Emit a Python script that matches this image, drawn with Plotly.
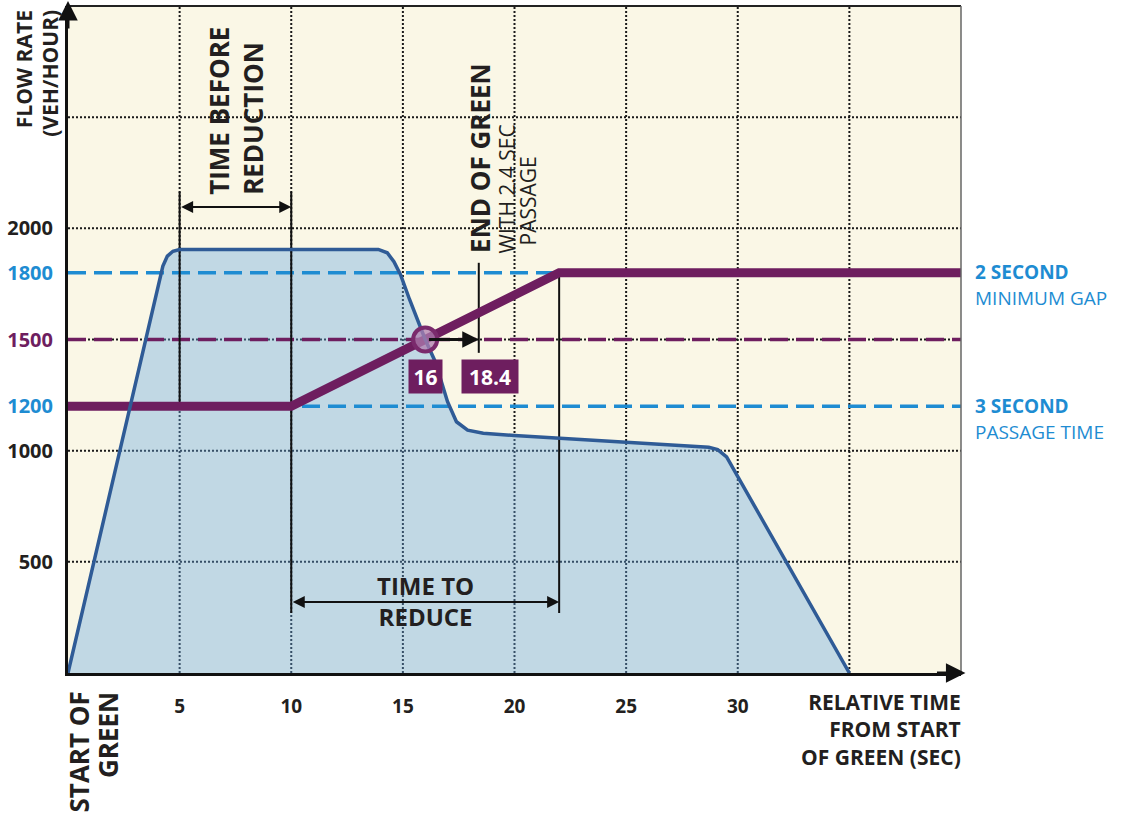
import plotly.graph_objects as go

# ---------------- data ----------------
flow_x = [0, 3.9, 4.1, 4.25, 4.45, 4.7, 5.0, 13.9, 14.3, 14.6, 14.9, 15.3, 16.0, 16.45, 17.0, 17.4, 17.9, 18.6,
          20, 25, 28.7, 29.1, 29.5, 35]
flow_y = [0, 1680, 1770, 1830, 1875, 1897, 1905, 1905, 1890, 1850, 1790, 1680, 1500, 1400, 1220, 1130, 1092, 1078,
          1068, 1037, 1015, 1005, 972, 0]

ext_x = [0, 10, 22, 40]
ext_y = [1200, 1200, 1800, 1800]

min_gap_level = 1800
passage_level = 1200
decision_level = 1500

x_tick_vals = [5, 10, 15, 20, 25, 30]
x_tick_text = ["5", "10", "15", "20", "25", "30"]
y_tick_vals = [500, 1000, 1200, 1500, 1800, 2000]
y_tick_text = ["500", "1000", "<span style='color:#1e8cd2'>1200</span>",
               "<span style='color:#6e1e5f'>1500</span>",
               "<span style='color:#1e8cd2'>1800</span>", "2000"]
grid_x = [5, 10, 15, 20, 25, 30, 35]
grid_y = [500, 1000, 1500, 2000, 2500]

end_green = 16
end_green_ext = 18.4

# guide lines: (x, y0, y1)
guide_lines = [(5, 1200, 2165), (10, 270, 2165), (22, 270, 1790), (18.4, 1440, 1845)]

# ---------------- style ----------------
PURPLE = "#6e1e5f"
BLUE_D = "#1e8cd2"
FLOW = "#2f5b96"
FONT = "Open Sans"
TXT = "#231f20"

fig = go.Figure()

# fill under flow curve
fig.add_trace(go.Scatter(x=flow_x, y=flow_y, mode="lines", line=dict(width=0),
                         fill="tozeroy", fillcolor="rgba(100,165,225,0.38)", hoverinfo="skip"))

# reference dashed levels
for lvl, col in [(min_gap_level, BLUE_D), (passage_level, BLUE_D), (decision_level, PURPLE)]:
    fig.add_trace(go.Scatter(x=[0, 40], y=[lvl, lvl], mode="lines",
                             line=dict(color=col, width=3.5, dash="18px,8px"), hoverinfo="skip"))

# guide lines
for gx, gy0, gy1 in guide_lines:
    fig.add_trace(go.Scatter(x=[gx, gx], y=[gy0, gy1], mode="lines",
                             line=dict(color="#111", width=2), hoverinfo="skip"))

# extension (purple) line
fig.add_trace(go.Scatter(x=ext_x, y=ext_y, mode="lines", line=dict(color=PURPLE, width=9),
                         hoverinfo="skip"))

# flow curve
fig.add_trace(go.Scatter(x=flow_x, y=flow_y, mode="lines", line=dict(color=FLOW, width=3.5),
                         hoverinfo="skip"))

# circle at intersection
fig.add_trace(go.Scatter(x=[end_green], y=[decision_level], mode="markers",
                         marker=dict(size=24, color="rgba(175,125,175,0.75)",
                                     line=dict(color="#7a2a6c", width=4)), hoverinfo="skip"))

shapes = []
for gx in grid_x:
    shapes.append(dict(type="line", xref="x", yref="y", x0=gx, x1=gx, y0=0, y1=3000, layer="below",
                       line=dict(color="#1a1a1a", width=2, dash="2px,2px")))
for gy in grid_y:
    shapes.append(dict(type="line", xref="x", yref="y", x0=0, x1=40, y0=gy, y1=gy, layer="below",
                       line=dict(color="#1a1a1a", width=2, dash="2px,2px")))
# frame
shapes.append(dict(type="line", xref="paper", yref="paper", x0=0, x1=1, y0=1, y1=1,
                   line=dict(color="#222", width=2)))
shapes.append(dict(type="line", xref="paper", yref="paper", x0=1, x1=1, y0=0, y1=1,
                   line=dict(color="#666", width=1.5)))

ann = []
# axis arrows
ann.append(dict(xref="paper", yref="paper", x=0, y=1.009, ax=0, ay=30, axref="pixel", ayref="pixel",
                showarrow=True, arrowhead=2, arrowsize=1.3, arrowwidth=3, arrowcolor="#111", text=""))
ann.append(dict(xref="paper", yref="paper", x=1.005, y=0, ax=-30, ay=0, axref="pixel", ayref="pixel",
                showarrow=True, arrowhead=2, arrowsize=1.3, arrowwidth=3, arrowcolor="#111", text=""))
# double arrows
ann.append(dict(xref="x", yref="y", x=10, y=2096, ax=5, ay=2096, axref="x", ayref="y", text="",
                showarrow=True, arrowhead=2, arrowside="end+start", arrowsize=1.2, arrowwidth=2,
                arrowcolor="#111", standoff=0, startstandoff=0))
ann.append(dict(xref="x", yref="y", x=22, y=319, ax=10, ay=319, axref="x", ayref="y", text="",
                showarrow=True, arrowhead=2, arrowside="end+start", arrowsize=1.2, arrowwidth=2,
                arrowcolor="#111", standoff=0, startstandoff=0))
# end-of-green arrow
ann.append(dict(xref="x", yref="y", x=end_green_ext, y=decision_level, ax=end_green + 0.1,
                ay=decision_level, axref="x", ayref="y", text="", showarrow=True, arrowhead=2,
                arrowsize=1.1, arrowwidth=3, arrowcolor="#111", standoff=0))

bold26 = dict(family=FONT, size=26, color=TXT)
ann.append(dict(xref="x", yref="y", x=7.52, y=2141, text="<b>TIME BEFORE<br>REDUCTION</b>",
                textangle=-90, align="left", xanchor="center", yanchor="bottom", showarrow=False,
                font=bold26))
ann.append(dict(xref="x", yref="y", x=16.0, y=322, text="<b>TIME TO<br>REDUCE</b>", showarrow=False,
                xanchor="center", yanchor="middle", align="center",
                font=dict(family=FONT, size=24, color=TXT)))
ann.append(dict(xref="x", yref="y", x=18.45, y=1880, text="<b>END OF GREEN</b>", textangle=-90,
                xanchor="center", yanchor="bottom", showarrow=False, font=bold26))
ann.append(dict(xref="x", yref="y", x=19.66, y=1880, text="WITH 2.4 SEC", textangle=-90,
                xanchor="center", yanchor="bottom", showarrow=False, font=dict(family=FONT, size=21, color=TXT)))
ann.append(dict(xref="x", yref="y", x=20.6, y=1916, text="PASSAGE", textangle=-90,
                xanchor="center", yanchor="bottom", showarrow=False, font=dict(family=FONT, size=21, color=TXT)))

# value boxes
ann.append(dict(xref="x", yref="y", x=16.03, y=1334, text="<b>16</b>", showarrow=False,
                bgcolor=PURPLE, width=31, height=31, borderpad=1,
                font=dict(family=FONT, size=21, color="white")))
ann.append(dict(xref="x", yref="y", x=18.88, y=1334, text="<b>18.4</b>", showarrow=False,
                bgcolor=PURPLE, width=54, height=31, borderpad=1,
                font=dict(family=FONT, size=21, color="white")))

# right labels
rl = dict(family=FONT, size=19, color=BLUE_D)
for txt, py in [("<b>2 SECOND</b>", 272), ("MINIMUM GAP", 298), ("<b>3 SECOND</b>", 406),
                ("PASSAGE TIME", 432)]:
    ann.append(dict(xref="paper", yref="paper", x=1.0134, y=(673 - py) / 667, text=txt, showarrow=False,
                    xanchor="left", yanchor="middle", font=rl))

# axis titles
ytl = dict(family=FONT, size=21, color=TXT)
ann.append(dict(xref="paper", yref="paper", x=-0.049, y=0.997, text="<b>FLOW RATE</b>", textangle=-90,
                xanchor="center", yanchor="top", showarrow=False, font=ytl))
ann.append(dict(xref="paper", yref="paper", x=-0.021, y=0.997, text="<b>(VEH/HOUR)</b>", textangle=-90,
                xanchor="center", yanchor="top", showarrow=False, font=ytl))
ann.append(dict(xref="paper", yref="paper", x=1.002, y=(673 - 729) / 667,
                text="<b>RELATIVE TIME<br>FROM START<br>OF GREEN (SEC)</b>", showarrow=False,
                xanchor="right", yanchor="middle", align="right",
                font=dict(family=FONT, size=21, color=TXT)))
sg = dict(family=FONT, size=26, color=TXT)
ann.append(dict(xref="paper", yref="paper", x=(78 - 68) / 893, y=(673 - 690) / 667, text="<b>START OF</b>",
                textangle=-90, xanchor="center", yanchor="top", showarrow=False, font=sg))
ann.append(dict(xref="paper", yref="paper", x=(108 - 68) / 893, y=(673 - 690) / 667, text="<b>GREEN</b>",
                textangle=-90, xanchor="center", yanchor="top", showarrow=False, font=sg))

fig.update_layout(
    width=1136, height=813,
    margin=dict(l=68, r=175, t=6, b=140),
    paper_bgcolor="white", plot_bgcolor="#faf7e6",
    showlegend=False,
    shapes=shapes, annotations=ann,
    font=dict(family=FONT, color=TXT),
    xaxis=dict(range=[0, 40], showgrid=False, zeroline=False, tickmode="array",
               tickvals=x_tick_vals, ticktext=x_tick_text, ticks="", ticklabelstandoff=14,
               tickfont=dict(family=FONT, size=19, color=TXT, weight="bold"),
               showline=True, linecolor="#111", linewidth=3),
    yaxis=dict(range=[0, 3000], showgrid=False, zeroline=False, tickmode="array",
               tickvals=y_tick_vals, ticktext=y_tick_text, ticks="", ticklabelstandoff=8,
               tickfont=dict(family=FONT, size=20, color=TXT, weight="bold"),
               showline=True, linecolor="#111", linewidth=3),
)

fig.write_html("out.html", config={"displayModeBar": False},
               post_script="document.body.style.margin='0';")
